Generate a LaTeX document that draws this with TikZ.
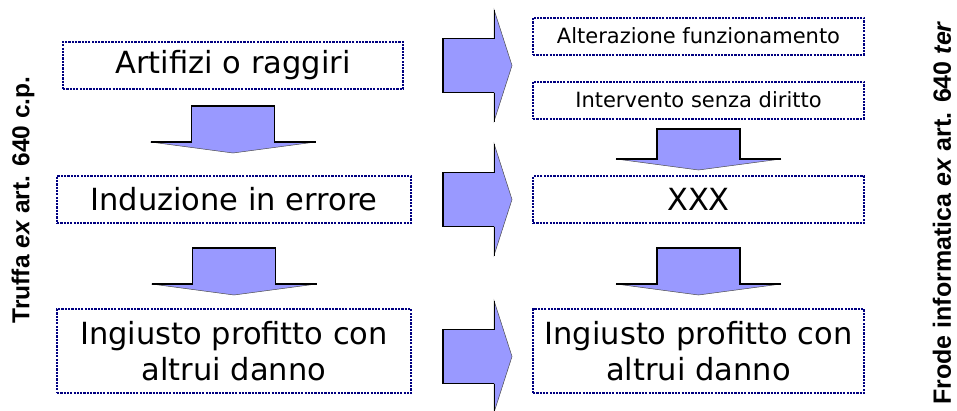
\documentclass[tikz,border=0pt]{standalone}
\usepackage{fontspec}
\usepackage{tikz}
\usetikzlibrary{calc}
\newfontfamily\boxfont{DejaVu Sans}
\newfontfamily\sidefont{Liberation Sans}
\definecolor{boxline}{HTML}{000080}
\definecolor{arrowfill}{HTML}{9999FF}

\begin{document}
\begin{tikzpicture}[
    x=1pt, y=-1pt,
    every node/.style={inner sep=0pt},
    bigbox/.style={draw=boxline, line width=2pt, dash pattern=on 2.2pt off 1.1pt, align=center, minimum height=47pt, font=\boxfont\fontsize{30.5}{36}\selectfont},
    smallbox/.style={draw=boxline, line width=2pt, dash pattern=on 2.2pt off 1.1pt, minimum width=331pt, minimum height=37pt, font=\boxfont\fontsize{21}{25}\selectfont},
    sidelabel/.style={rotate=90, font=\sidefont\bfseries\fontsize{24.5}{28}\selectfont},
    pics/downarrow/.style={code={
        \filldraw[fill=arrowfill, draw=gray!60!black, line width=0.5pt] (-41.5,0) -- (41.5,0) -- (41.5,#1) -- (82.5,#1) -- (0,#1+11) -- (-82.5,#1) -- (-41.5,#1) -- cycle;
        \draw[line width=1.5pt] (-82.5,#1) -- (-41.5,#1) -- (-41.5,0) -- (41.5,0) -- (41.5,#1) -- (82.5,#1);
    }},
    pics/downarrow/.default=36,
    pics/rightarrow/.style={code={
        \filldraw[fill=arrowfill, draw=gray!60!black, line width=0.5pt] (0,-27) -- (51,-27) -- (51,-56) -- (69,0) -- (51,56) -- (51,27) -- (0,27) -- cycle;
        \draw[line width=1.5pt] (51,-27) -- (0,-27) -- (0,27) -- (51,27);
        \draw[line width=0.7pt] (51,-27) -- (51,-56) (51,27) -- (51,56);
    }}
]
\useasboundingbox (0,0) rectangle (957,410);

% left column
\node[bigbox, minimum width=340pt] (artifizi) at (233,65.5) {Artifizi o raggiri};
\node[bigbox, minimum width=354pt] (induzione) at (234,199.5) {Induzione in errore};
\node[bigbox, minimum width=354pt, minimum height=84pt] (profitto) at (234,351) {Ingiusto profitto con\\altrui danno};

% right column
\node[smallbox] (alterazione) at (698.5,36) {Alterazione funzionamento};
\node[smallbox] (intervento) at (698.5,100) {Intervento senza diritto};
\node[bigbox, minimum width=331pt] (xxx) at (698.5,199.5) {XXX};
\node[bigbox, minimum width=331pt, minimum height=84pt] (profittoinf) at (698.5,351) {Ingiusto profitto con\\altrui danno};

\node[sidelabel] (truffa) at (23,200) {Truffa \textit{ex} art. 640 c.p.};
\node[sidelabel, font=\sidefont\bfseries\fontsize{25}{29}\selectfont] (frode) at (942,213) {Frode informatica \textit{ex} art. 640 \textit{ter}};

% block arrows
\pic at ($(artifizi.south)+(0,16)$) {downarrow};
\pic at ($(induzione.south)+(0,24)$) {downarrow};
\pic at ($(intervento.south)+(0,9.5)$) {downarrow=30};
\pic at ($(xxx.south)+(0,24)$) {downarrow};
\pic at ($(artifizi.east)+(39,0)$) {rightarrow};
\pic at ($(induzione.east)+(31,0)$) {rightarrow};
\pic at ($(profitto.east)+(31,5.5)$) {rightarrow};
\end{tikzpicture}
\end{document}
